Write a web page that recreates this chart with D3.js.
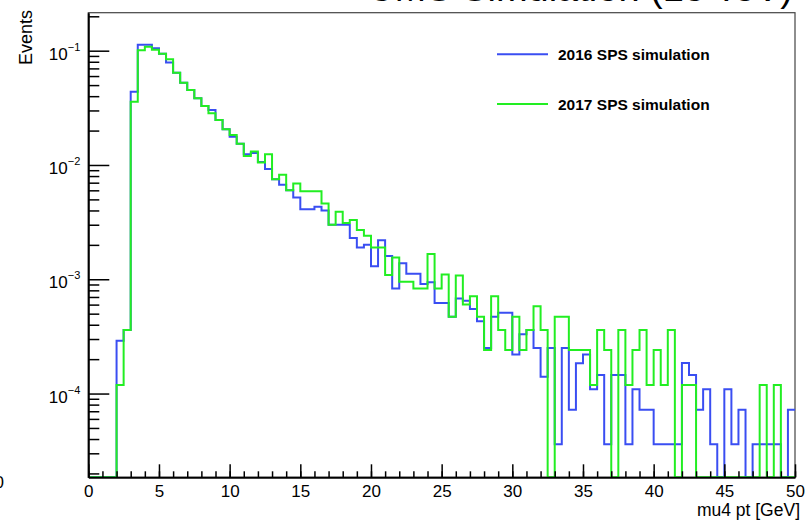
<!DOCTYPE html>
<html>
<head>
<meta charset="utf-8">
<script src="https://cdn.jsdelivr.net/npm/d3@7"></script>
<style>
  html, body { margin: 0; padding: 0; background: #fff; }
  svg { display: block; }
  text { font-family: "Liberation Sans", Arial, Helvetica, sans-serif; }
</style>
</head>
<body>
<svg id="chart" width="805" height="521"></svg>
<script>
// ---- data: 100 bins of 0.5 GeV from 0 to 50 ----
const binEdgesStart = 0;
const binWidth = 0.5;
const nBins = 100;

const series2016 = [
  0, 0, 0, 0, 2.9e-4, 3.6e-4, 0.0438, 0.113, 0.113, 0.105,
  0.094, 0.079, 0.064, 0.0525, 0.0453, 0.0383, 0.0328, 0.0303, 0.0248, 0.0205,
  0.0177, 0.0153, 0.0124, 0.0127, 0.0106, 0.0092, 0.0075, 0.0067, 0.0060, 0.0052,
  0.0041, 0.0041, 0.0043, 0.0040, 0.0030, 0.0030, 0.0030, 0.0023, 0.0019, 0.0020,
  0.0013, 0.0022, 0.00160, 0.00083, 0.00138, 0.00112, 0.00112, 0.00091, 0.00094, 0.00062,
  0.00062, 0.00047, 0.00068, 0.00065, 0.00055, 0.00043, 0.00025, 0.00047, 0.00051, 0.00051,
  0.00022, 0.00033, 0.00036, 0.00025, 0.00014, 0.00025, 3.6e-5, 0.00025, 7.2e-5, 1.84e-4,
  2.2e-4, 1.09e-4, 1.45e-4, 3.6e-5, 1.45e-4, 1.45e-4, 3.6e-5, 1.09e-4, 7.2e-5, 7.2e-5,
  3.6e-5, 3.6e-5, 3.6e-5, 3.6e-5, 1.85e-4, 1.45e-4, 7.2e-5, 1.09e-4, 3.6e-5, 0,
  1.09e-4, 3.6e-5, 7.2e-5, 0, 3.6e-5, 3.6e-5, 3.6e-5, 3.6e-5, 0, 7.2e-5
];

const series2017 = [
  0, 0, 0, 0, 1.19e-4, 3.6e-4, 0.0358, 0.101, 0.108, 0.102,
  0.094, 0.084, 0.064, 0.0525, 0.0453, 0.0383, 0.0328, 0.0284, 0.0248, 0.0205,
  0.0183, 0.0153, 0.0120, 0.0131, 0.0105, 0.0124, 0.0075, 0.0082, 0.0060, 0.0069,
  0.0059, 0.0059, 0.0059, 0.0046, 0.0030, 0.0039, 0.0031, 0.0033, 0.0027, 0.0024,
  0.0019, 0.0019, 0.00109, 0.00155, 0.00095, 0.00095, 0.00083, 0.00083, 0.00166, 0.00083,
  0.0011, 0.00047, 0.00108, 0.00060, 0.00071, 0.00047, 0.00024, 0.00071, 0.00036, 0.00024,
  0.00047, 0.00024, 0.00036, 0.00058, 0.00036, 0, 0.00047, 0.00047, 0.00024, 0.00024,
  0.00024, 1.19e-4, 0.00036, 0.00024, 0, 0.00036, 1.19e-4, 0.00024, 0.00036, 1.19e-4,
  0.00024, 1.19e-4, 0.00036, 0, 1.19e-4, 1.19e-4, 0, 0, 0, 0,
  0, 0, 0, 0, 0, 1.19e-4, 0, 1.19e-4, 0, 0
];

const seriesNames = ["2016 SPS simulation", "2017 SPS simulation"];
const seriesColors = ["#3a4ef2", "#22ee22"];
const xMajorTicks = [0, 5, 10, 15, 20, 25, 30, 35, 40, 45, 50];
const yDecadeTicks = [1e-4, 1e-3, 1e-2, 1e-1];
const yDecadeExponents = ["−4", "−3", "−2", "−1"];
const xTitle = "mu4 pt [GeV]";
const yTitle = "Events";
const topTitle = "CMS Simulation (13 TeV)";

// ---- layout ----
const svg = d3.select("#chart");
const L = 88.3, R = 795, T = 12.7, B = 477.3;
const x = d3.scaleLinear().domain([0, 50]).range([L, R]);
const y = d3.scaleLog().domain([1.85e-5, 0.215]).range([B, T]);

// clipped top title (only its lowest edge is visible, as in the reference)
svg.append("text")
  .attr("x", 793).attr("y", 0.8)
  .attr("text-anchor", "end")
  .attr("font-size", 38)
  .attr("fill", "#000")
  .text(topTitle);

// stray clipped label at far left
svg.append("text")
  .attr("x", 4).attr("y", 488)
  .attr("text-anchor", "end")
  .attr("font-size", 17)
  .text("0");

// clip for histograms
svg.append("defs").append("clipPath").attr("id", "plotclip")
  .append("rect").attr("x", L).attr("y", T).attr("width", R - L).attr("height", B - T);

// frame
svg.append("rect")
  .attr("x", L).attr("y", T).attr("width", R - L).attr("height", B - T)
  .attr("fill", "none").attr("stroke", "#444").attr("stroke-width", 1.2);

// histogram step paths
function stepPath(vals) {
  const ymin = y.domain()[0];
  const pts = [];
  vals.forEach((v, i) => {
    const x0 = binEdgesStart + i * binWidth, x1 = x0 + binWidth;
    const vv = v > 0 ? v : ymin;
    pts.push([x(x0), y(vv)], [x(x1), y(vv)]);
  });
  return d3.line()(pts);
}
const hg = svg.append("g").attr("clip-path", "url(#plotclip)");
[series2016, series2017].forEach((s, k) => {
  hg.append("path")
    .attr("d", stepPath(s))
    .attr("fill", "none")
    .attr("stroke", seriesColors[k])
    .attr("stroke-width", 2);
});

// x axis (ticks point up)
const xMinor = d3.range(0, 51, 1);
svg.append("g").attr("transform", `translate(0,${B})`)
  .call(d3.axisBottom(x).tickValues(xMinor).tickSize(-6).tickFormat(""))
  .call(g => g.select(".domain").remove())
  .selectAll("line").attr("stroke", "#000").attr("stroke-width", 1.5);
const xg = svg.append("g").attr("transform", `translate(0,${B})`)
  .call(d3.axisBottom(x).tickValues(xMajorTicks).tickSize(-13).tickSizeOuter(0).tickPadding(8).tickFormat(d3.format("d")));
xg.select(".domain").attr("stroke", "#000").attr("stroke-width", 2);
xg.selectAll("line").attr("stroke", "#000").attr("stroke-width", 1.5);
xg.selectAll("text").attr("font-size", 17).attr("fill", "#000")
  .attr("font-family", "Liberation Sans, Arial, sans-serif");

// y axis (ticks point right)
const yMinor = [];
[1e-5, 1e-4, 1e-3, 1e-2, 1e-1].forEach(d => {
  for (let m = 2; m <= 9; m++) {
    const v = d * m;
    if (v >= y.domain()[0] && v <= y.domain()[1]) yMinor.push(v);
  }
});
svg.append("g").attr("transform", `translate(${L},0)`)
  .call(d3.axisLeft(y).tickValues(yMinor).tickSize(-11).tickFormat(""))
  .call(g => g.select(".domain").remove())
  .selectAll("line").attr("stroke", "#000").attr("stroke-width", 1.5);
const yg = svg.append("g").attr("transform", `translate(${L},0)`)
  .call(d3.axisLeft(y).tickValues(yDecadeTicks).tickSize(-21).tickSizeOuter(0).tickPadding(8).tickFormat(""));
yg.select(".domain").attr("stroke", "#000").attr("stroke-width", 2);
yg.selectAll("line").attr("stroke", "#000").attr("stroke-width", 1.5);
yg.selectAll(".tick").each(function(d, i) {
  const t = d3.select(this).select("text");
  t.attr("x", -8).attr("dy", null).attr("y", 8.6)
    .attr("text-anchor", "end").attr("fill", "#000")
    .attr("font-size", 17);
  t.text(null);
  t.append("tspan").text("10");
  t.append("tspan").attr("font-size", 11).attr("dy", -9)
    .text(yDecadeExponents[yDecadeTicks.indexOf(d)]);
});

// axis titles
svg.append("text")
  .attr("x", 800).attr("y", 516)
  .attr("text-anchor", "end")
  .attr("font-size", 17.5)
  .text(xTitle);
svg.append("text")
  .attr("transform", "translate(32,10) rotate(-90)")
  .attr("text-anchor", "end")
  .attr("font-size", 18)
  .text(yTitle);

// legend
const legY = [54.3, 104];
seriesNames.forEach((name, k) => {
  svg.append("line")
    .attr("x1", 497).attr("x2", 548)
    .attr("y1", legY[k]).attr("y2", legY[k])
    .attr("stroke", seriesColors[k]).attr("stroke-width", 2);
  svg.append("text")
    .attr("x", 558).attr("y", legY[k] + 5.5)
    .attr("font-size", 15.5).attr("font-weight", "bold")
    .text(name);
});
</script>
</body>
</html>
